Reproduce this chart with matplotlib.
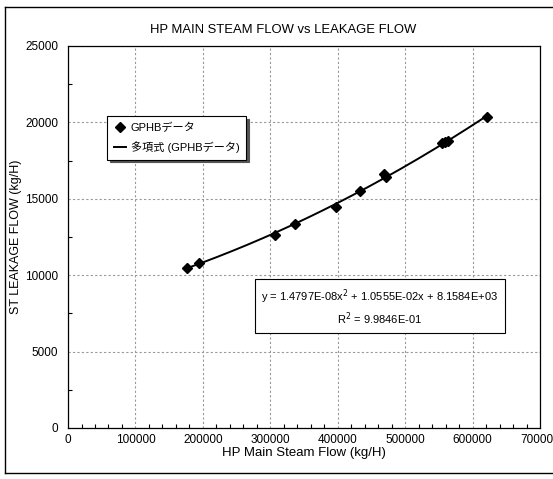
import numpy as np
import matplotlib
matplotlib.use("Agg")
import matplotlib.pyplot as plt
from matplotlib.ticker import MultipleLocator
from matplotlib.lines import Line2D

# GPHB data
steam_flow = [176000, 194000, 307000, 336000, 398000, 433000, 468000, 471000,
              555000, 559000, 563000, 622000]
leak_flow = [10500, 10780, 12650, 13320, 14450, 15520, 16650, 16420,
             18620, 18700, 18770, 20330]

x_ticks = [0, 100000, 200000, 300000, 400000, 500000, 600000, 700000]
y_ticks = [0, 5000, 10000, 15000, 20000, 25000]

plt.rcParams['font.family'] = ['Liberation Sans', 'Noto Sans CJK JP']

fig = plt.figure(figsize=(5.53, 4.79), dpi=100)
ax = fig.add_axes([0.123, 0.1065, 0.8535, 0.7975])

# 2nd order trend line fitted to the data
coef = np.polyfit(steam_flow, leak_flow, 2)
xs = np.linspace(min(steam_flow), max(steam_flow), 200)
ax.plot(xs, np.polyval(coef, xs), color='black', lw=1.4, zorder=3)
ax.plot(steam_flow, leak_flow, linestyle='none', marker='D', markersize=5,
        color='black', zorder=4)

ax.set_xlim(0, 700000)
ax.set_ylim(0, 25000)
ax.set_xticks(x_ticks)
ax.set_yticks(y_ticks)
ax.xaxis.set_minor_locator(MultipleLocator(20000))
ax.yaxis.set_minor_locator(MultipleLocator(2500))
ax.tick_params(which='both', direction='in', labelsize=8.5)
ax.tick_params(axis='y', which='major', length=0, pad=7)
ax.tick_params(axis='x', which='major', length=0, pad=4)
ax.tick_params(which='minor', length=3, width=0.8)
ax.grid(True, which='major', linestyle=(0, (2, 2)), color='#999999', lw=0.8)
for s in ax.spines.values():
    s.set_linewidth(0.9)

ax.set_xlabel('HP Main Steam Flow (kg/H)', fontsize=9.5, labelpad=1)
ax.set_ylabel('ST LEAKAGE FLOW (kg/H)', fontsize=9)
ax.yaxis.set_label_coords(-0.098, 0.5)
fig.text(0.512, 0.937, 'HP MAIN STEAM FLOW vs LEAKAGE FLOW', ha='center',
         va='center', fontsize=9.4)

handles = [Line2D([], [], linestyle='none', marker='D', markersize=5, color='black'),
           Line2D([], [], color='black', lw=1.4)]
leg = ax.legend(handles, ['GPHBデータ', '多項式 (GPHBデータ)'],
                loc='upper left', bbox_to_anchor=(0.083, 0.817),
                fancybox=False, shadow={'color': '#555555', 'alpha': 1},
                edgecolor='black', framealpha=1,
                fontsize=8, handlelength=1.1, handletextpad=0.4,
                borderpad=0.6, labelspacing=0.75, borderaxespad=0)
leg.get_frame().set_linewidth(0.8)

ax.text(0.661, 0.317,
        'y = 1.4797E-08x$^2$ + 1.0555E-02x + 8.1584E+03\nR$^2$ = 9.9846E-01',
        transform=ax.transAxes, ha='center', va='center', multialignment='center',
        fontsize=8, linespacing=1.35,
        bbox=dict(boxstyle='square,pad=0.55', fc='white', ec='black', lw=0.8))

# chart area border
fig.add_artist(Line2D([0.009, 0.009], [0.012, 0.986], color='black', lw=1))
fig.add_artist(Line2D([0.009, 1.0], [0.986, 0.986], color='black', lw=1))
fig.add_artist(Line2D([0.009, 1.0], [0.012, 0.012], color='black', lw=1))

fig.savefig('out.png', dpi=100)
